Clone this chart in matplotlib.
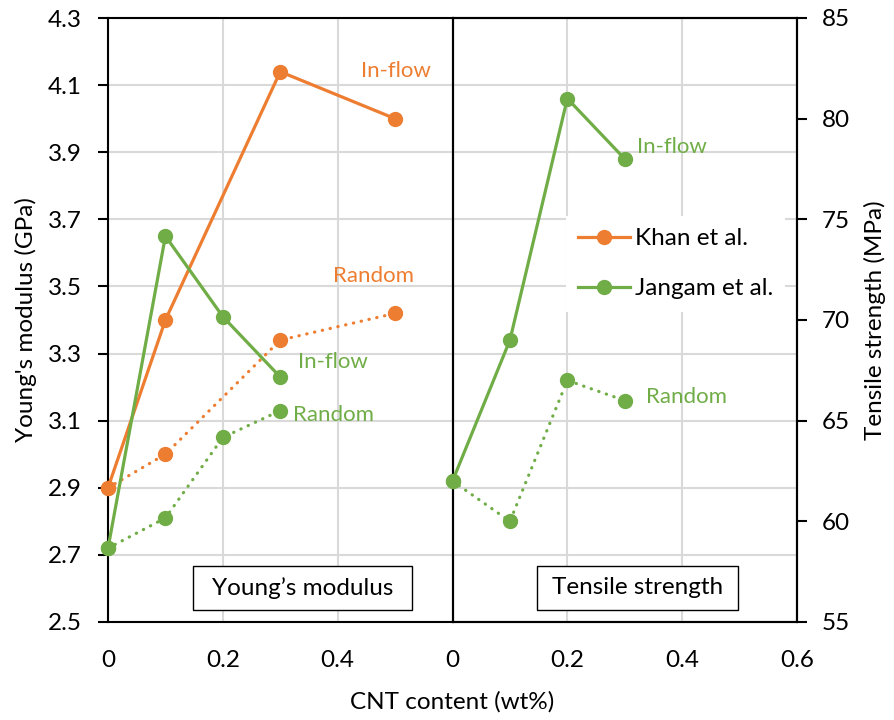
import matplotlib
matplotlib.use("Agg")
import matplotlib.pyplot as plt
from matplotlib.patches import Rectangle

plt.rcParams['font.family'] = ['Lato', 'DejaVu Sans']

ORANGE = '#ED7D31'
GREEN = '#70AD47'

# Young's modulus (GPa)
khan_x = [0, 0.1, 0.3, 0.5]
khan_inflow = [2.90, 3.40, 4.14, 4.00]
khan_random = [2.90, 3.00, 3.34, 3.42]
jangam_x = [0, 0.1, 0.2, 0.3]
jangam_mod_inflow = [2.72, 3.65, 3.41, 3.23]
jangam_mod_random = [2.72, 2.81, 3.05, 3.13]
# Tensile strength (MPa)
jangam_ts_inflow = [62.0, 69.0, 81.0, 78.0]
jangam_ts_random = [62.0, 60.0, 67.0, 66.0]

mod_ticks = [2.5, 2.7, 2.9, 3.1, 3.3, 3.5, 3.7, 3.9, 4.1, 4.3]
ts_ticks = [55, 60, 65, 70, 75, 80, 85]
left_xticks = [0, 0.2, 0.4]
left_xlabels = ['0', '0.2', '0.4']
right_xticks = [0, 0.2, 0.4, 0.6]
right_xlabels = ['0', '0.2', '0.4', '0.6']

W, H = 894, 720
fig = plt.figure(figsize=(W / 100, H / 100), dpi=100)
L, R, T, B, M = 108, 797, 18, 622, 452.5
ax1 = fig.add_axes([L / W, (H - B) / H, (M - L) / W, (B - T) / H])
ax2 = fig.add_axes([M / W, (H - B) / H, (R - M) / W, (B - T) / H], sharey=ax1)
ax2t = ax2.twinx()

FS = 17.5
GRID = '#d9d9d9'
lw = 2.3
ms = 10
dot = (0, (0.1, 2.4))

for ax in (ax1, ax2):
    ax.set_xlim(0, 0.6)
    ax.set_ylim(2.5, 4.3)
    ax.set_yticks(mod_ticks)
    ax.grid(True, color=GRID, lw=1.5)
    ax.set_axisbelow(True)
    for s in ax.spines.values():
        s.set_linewidth(1.5)
        s.set_color('black')
    ax.tick_params(axis='x', length=0, pad=20, labelsize=FS)
ax1.set_xticks(left_xticks)
ax1.set_xticklabels(left_xlabels)
ax2.set_xticks(right_xticks)
ax2.set_xticklabels(right_xlabels)
ax1.tick_params(axis='y', direction='out', length=7, width=1.5, pad=12, labelsize=FS)
ax1.yaxis.set_major_formatter(matplotlib.ticker.FormatStrFormatter('%.1f'))
ax2.tick_params(axis='y', left=False, labelleft=False)
ax1.spines['right'].set_visible(False)

ax2t.set_ylim(55, 85)
ax2t.set_yticks(ts_ticks)
ax2t.tick_params(axis='y', direction='out', length=7, width=1.5, pad=11, labelsize=FS)
for s in ax2t.spines.values():
    s.set_linewidth(1.5)

# Left panel
l_khan, = ax1.plot(khan_x, khan_inflow, '-o', color=ORANGE, lw=lw, ms=ms, label='Khan et al.', zorder=3)
ax1.plot(khan_x, khan_random, linestyle=dot, marker='o', color=ORANGE, lw=lw, ms=ms,
         dash_capstyle='round', zorder=3)
l_jan, = ax1.plot(jangam_x, jangam_mod_inflow, '-o', color=GREEN, lw=lw, ms=ms, label='Jangam et al.', zorder=3)
ax1.plot(jangam_x, jangam_mod_random, linestyle=dot, marker='o', color=GREEN, lw=lw, ms=ms,
         dash_capstyle='round', zorder=3)
for ln in ax1.lines:
    ln.set_clip_on(False)

# Right panel
ax2t.plot(jangam_x, jangam_ts_inflow, '-o', color=GREEN, lw=lw, ms=ms, clip_on=False, zorder=3)
ax2t.plot(jangam_x, jangam_ts_random, linestyle=dot, marker='o', color=GREEN, lw=lw, ms=ms,
          dash_capstyle='round', clip_on=False, zorder=3)

AFS = 16
ax1.text(0.502, 4.143, 'In-flow', color=ORANGE, fontsize=AFS, ha='center', va='center')
ax1.text(0.463, 3.531, 'Random', color=ORANGE, fontsize=AFS, ha='center', va='center')
ax1.text(0.392, 3.276, 'In-flow', color=GREEN, fontsize=AFS, ha='center', va='center')
ax1.text(0.392, 3.117, 'Random', color=GREEN, fontsize=AFS, ha='center', va='center')
ax2t.text(0.382, 78.6, 'In-flow', color=GREEN, fontsize=AFS, ha='center', va='center')
ax2t.text(0.407, 66.2, 'Random', color=GREEN, fontsize=AFS, ha='center', va='center')

# Panel title boxes
ax1.add_patch(Rectangle((0.2467, 0.0199), 0.8824 - 0.2467, 0.0927 - 0.0199, transform=ax1.transAxes,
                        fc='white', ec='black', lw=1.0, zorder=5))
ax1.text(0.5646, 0.0563, 'Young\u2019s modulus', transform=ax1.transAxes, fontsize=FS,
         ha='center', va='center', zorder=6)
ax2.add_patch(Rectangle((0.2444, 0.0199), 0.8296 - 0.2444, 0.0927 - 0.0199, transform=ax2.transAxes,
                        fc='white', ec='black', lw=1.0, zorder=5))
ax2.text(0.537, 0.0563, 'Tensile strength', transform=ax2.transAxes, fontsize=FS,
         ha='center', va='center', zorder=6)

leg = ax2t.legend([l_khan, l_jan], ['Khan et al.', 'Jangam et al.'], loc='center left',
                  bbox_to_anchor=(0.329, 0.593), borderaxespad=0, fontsize=FS,
                  handlelength=2.14, handletextpad=0.2, labelspacing=1.2, borderpad=0.5,
                  frameon=True, fancybox=False, framealpha=1, facecolor='white',
                  edgecolor='none')

ax1.set_ylabel("Young's modulus (GPa)", fontsize=FS)
ax1.yaxis.set_label_coords(-(108 - 37) / (M - L), 0.5)
ax2t.set_ylabel('Tensile strength (MPa)', fontsize=FS)
ax2t.yaxis.set_label_coords((864 - M) / (R - M), 0.5)
fig.text(452 / W, 1 - 701.7 / H, 'CNT content (wt%)', fontsize=FS, ha='center', va='center')

fig.savefig('out.png', dpi=100)
